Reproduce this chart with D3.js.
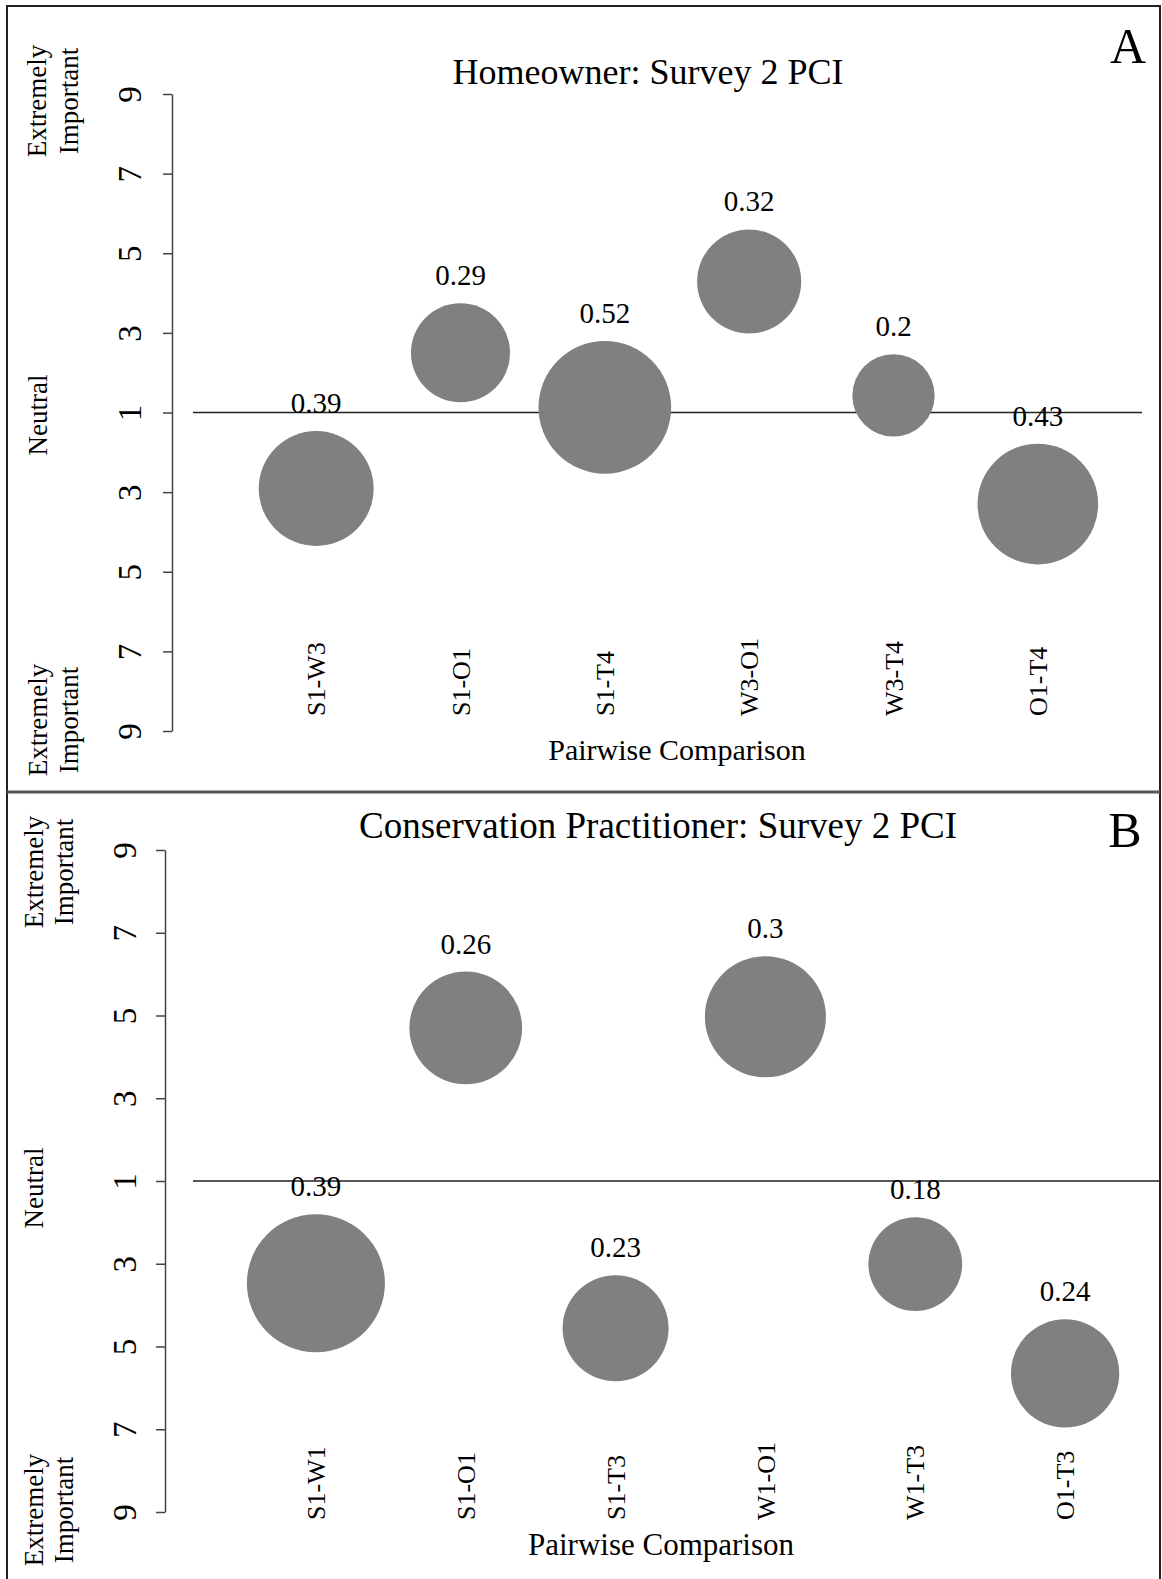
<!DOCTYPE html>
<html>
<head>
<meta charset="utf-8">
<script src="https://cdn.jsdelivr.net/npm/d3@7"></script>
<style>
  html, body { margin: 0; padding: 0; background: #fff; }
  svg { display: block; font-family: "Liberation Serif", "Times New Roman", serif; }
</style>
</head>
<body>
<div id="chart"></div>
<script>
// panel A: homeowner
const homeownerPairs = ["S1-W3", "S1-O1", "S1-T4", "W3-O1", "W3-T4", "O1-T4"];
const homeownerScore = [-1.91, 1.5, 0.13, 3.29, 0.43, -2.3];
const homeownerWeight = [0.39, 0.29, 0.52, 0.32, 0.2, 0.43];

// panel B: conservation practitioner
const practitionerPairs = ["S1-W1", "S1-O1", "S1-T3", "W1-O1", "W1-T3", "O1-T3"];
const practitionerScore = [-2.47, 3.7, -3.56, 3.97, -2.01, -4.65];
const practitionerWeight = [0.39, 0.26, 0.23, 0.3, 0.18, 0.24];

// scale runs from 9 (top) through 1 (neutral) to 9 (bottom)
const tickValues = [-8, -6, -4, -2, 0, 2, 4, 6, 8];
const tickLabels = ["9", "7", "5", "3", "1", "3", "5", "7", "9"];

const W = 1162, H = 1579;
const svg = d3.select("#chart").append("svg")
  .attr("width", W).attr("height", H)
  .attr("viewBox", `0 0 ${W} ${H}`);

svg.append("rect").attr("width", W).attr("height", H).attr("fill", "#fff");

const panels = [
  {
    pairs: homeownerPairs, score: homeownerScore, weight: homeownerWeight,
    title: "Homeowner: Survey 2 PCI", titleX: 648, titleY: 84, titleSize: 36,
    letter: "A", letterX: 1128, letterY: 63,
    axisX: 172, yTop: 94, yBot: 731, tickTextX: 141,
    xRange: [244, 1110], rMax: 92,
    lineX: [193, 1142],
    catY: 716,
    xTitleX: 677, xTitleY: 760, xTitleSize: 30,
    side: [
      { cy: 101, lines: ["Extremely", "Important"], bx: [46, 78] },
      { cy: 415, lines: ["Neutral"], bx: [47] },
      { cy: 720, lines: ["Extremely", "Important"], bx: [47, 78] }
    ]
  },
  {
    pairs: practitionerPairs, score: practitionerScore, weight: practitionerWeight,
    title: "Conservation Practitioner: Survey 2 PCI", titleX: 658, titleY: 838, titleSize: 37,
    letter: "B", letterX: 1125, letterY: 847,
    axisX: 165, yTop: 850, yBot: 1512, tickTextX: 136,
    xRange: [241, 1140], rMax: 110.5,
    lineX: [193, 1160],
    catY: 1520,
    xTitleX: 661, xTitleY: 1555, xTitleSize: 31,
    side: [
      { cy: 872, lines: ["Extremely", "Important"], bx: [43, 73] },
      { cy: 1188, lines: ["Neutral"], bx: [43] },
      { cy: 1510, lines: ["Extremely", "Important"], bx: [43, 73] }
    ]
  }
];

panels.forEach((p) => {
  const g = svg.append("g");
  const y = d3.scaleLinear().domain([-8, 8]).range([p.yBot, p.yTop]);
  const x = d3.scaleBand().domain(p.pairs).range(p.xRange);
  const r = d3.scaleSqrt().domain([0, 1]).range([0, p.rMax]);
  const rows = p.pairs.map((k, i) => ({ pair: k, score: p.score[i], weight: p.weight[i] }));

  // title and panel letter
  g.append("text")
    .attr("x", p.titleX).attr("y", p.titleY)
    .attr("text-anchor", "middle")
    .attr("font-size", p.titleSize)
    .text(p.title);
  g.append("text")
    .attr("x", p.letterX).attr("y", p.letterY)
    .attr("text-anchor", "middle")
    .attr("font-size", 50)
    .text(p.letter);

  // y axis
  const axis = g.append("g")
    .attr("transform", `translate(${p.axisX},0)`)
    .call(d3.axisLeft(y)
      .tickValues(tickValues)
      .tickFormat((d, i) => tickLabels[i])
      .tickSize(9)
      .tickSizeOuter(0));
  axis.select(".domain").attr("stroke", "#444").attr("stroke-width", 1.5);
  axis.selectAll(".tick line").attr("stroke", "#444").attr("stroke-width", 1.5);
  axis.selectAll(".tick text")
    .attr("x", 0).attr("dy", 0)
    .attr("text-anchor", "middle")
    .attr("fill", "#000")
    .attr("font-family", "Liberation Serif, serif")
    .attr("font-size", 33)
    .attr("transform", `translate(${p.tickTextX - p.axisX},0) rotate(-90)`);

  // side descriptors
  p.side.forEach((s) => {
    s.lines.forEach((t, j) => {
      g.append("text")
        .attr("transform", `translate(${s.bx[j]},${s.cy}) rotate(-90)`)
        .attr("text-anchor", "middle")
        .attr("font-size", 27)
        .text(t);
    });
  });

  // neutral line
  g.append("line")
    .attr("x1", p.lineX[0]).attr("x2", p.lineX[1])
    .attr("y1", y(0)).attr("y2", y(0))
    .attr("stroke", "#222").attr("stroke-width", 1.5);

  // bubbles
  g.selectAll("circle.bubble")
    .data(rows)
    .join("circle")
    .attr("class", "bubble")
    .attr("cx", (d) => x(d.pair) + x.bandwidth() / 2)
    .attr("cy", (d) => y(d.score))
    .attr("r", (d) => r(d.weight))
    .attr("fill", "#808080");

  g.selectAll("text.val")
    .data(rows)
    .join("text")
    .attr("class", "val")
    .attr("x", (d) => x(d.pair) + x.bandwidth() / 2)
    .attr("y", (d) => y(d.score) - r(d.weight) - 18)
    .attr("text-anchor", "middle")
    .attr("font-size", 29)
    .text((d) => d.weight);

  // category labels
  g.selectAll("text.cat")
    .data(rows)
    .join("text")
    .attr("class", "cat")
    .attr("transform", (d) => `translate(${x(d.pair) + x.bandwidth() / 2},${p.catY}) rotate(-90)`)
    .attr("dy", "0.35em")
    .attr("text-anchor", "start")
    .attr("font-size", 26)
    .text((d) => d.pair);

  g.append("text")
    .attr("x", p.xTitleX).attr("y", p.xTitleY)
    .attr("text-anchor", "middle")
    .attr("font-size", p.xTitleSize)
    .text("Pairwise Comparison");
});

// frame and panel divider
svg.append("rect")
  .attr("x", 7).attr("y", 6)
  .attr("width", 1153).attr("height", H)
  .attr("fill", "none").attr("stroke", "#222").attr("stroke-width", 2);
svg.append("line")
  .attr("x1", 7).attr("x2", 1160)
  .attr("y1", 792).attr("y2", 792)
  .attr("stroke", "#555").attr("stroke-width", 3);
</script>
</body>
</html>
